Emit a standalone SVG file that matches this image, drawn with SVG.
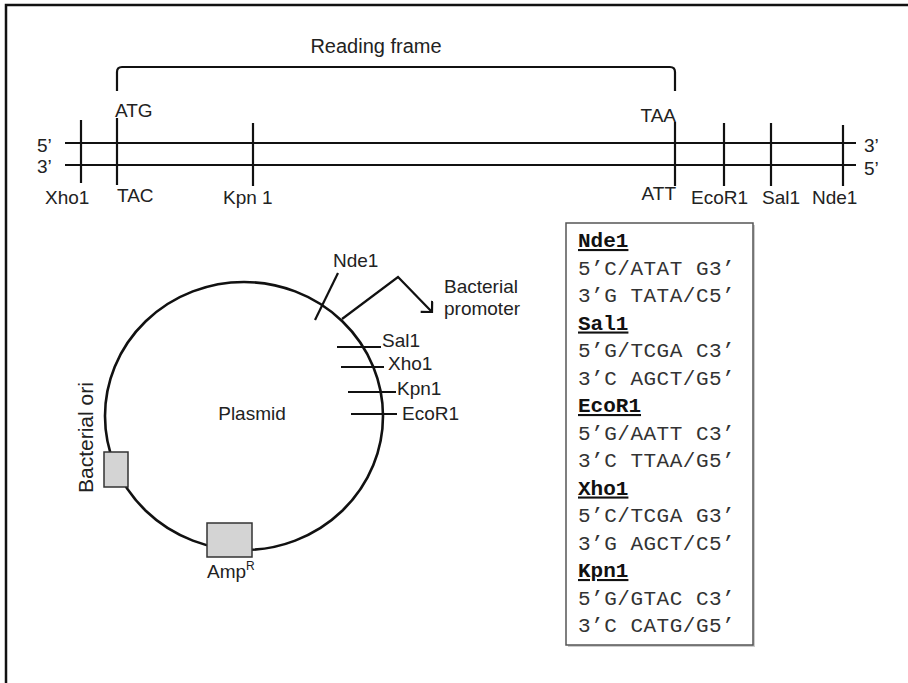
<svg xmlns="http://www.w3.org/2000/svg" width="908" height="683" viewBox="0 0 908 683">
<defs>
<style>
.s{font-family:"Liberation Sans",Arial,sans-serif;font-size:19px;fill:#222}
.m{font-family:"Liberation Mono","Courier New",monospace;font-size:21px;fill:#333;letter-spacing:0.5px}
.h{font-family:"Liberation Mono","Courier New",monospace;font-size:21px;font-weight:bold;fill:#111;text-decoration:underline}
.ln{stroke:#111;stroke-width:2.2;fill:none}
.box{fill:#d4d4d4;stroke:#333;stroke-width:1.5}
</style>
<marker id="arr" markerWidth="20" markerHeight="20" refX="10" refY="8" orient="auto" markerUnits="userSpaceOnUse">
<path d="M2,0 L10,8 L2,16" fill="none" stroke="#111" stroke-width="2.2"/>
</marker>
</defs>
<rect width="908" height="683" fill="#fff"/>
<path d="M6,683 V5 H908" fill="none" stroke="#111" stroke-width="2.5"/>

<g id="reading-frame">
<text class="s" x="376" y="53" text-anchor="middle" style="font-size:20px">Reading frame</text>
<path class="ln" d="M117,91 V72 Q117,67 122,67 H670 Q675,67 675,72 V91"/>
<text class="s" x="115" y="117">ATG</text>
<text class="s" x="676" y="122" text-anchor="end">TAA</text>
</g>

<g id="dna-strands">
<line class="ln" x1="65" y1="143" x2="856" y2="143"/>
<line class="ln" x1="65" y1="165" x2="856" y2="165"/>
<text class="s" x="37" y="152">5’</text>
<text class="s" x="37" y="173">3’</text>
<text class="s" x="864" y="152">3’</text>
<text class="s" x="864" y="175">5’</text>
</g>

<g id="strand-sites">
<line class="ln" x1="81" y1="120" x2="81" y2="183"/>
<line class="ln" x1="117" y1="118" x2="117" y2="185"/>
<line class="ln" x1="253" y1="123" x2="253" y2="186"/>
<line class="ln" x1="675" y1="122" x2="675" y2="186"/>
<line class="ln" x1="724" y1="123" x2="724" y2="186"/>
<line class="ln" x1="771" y1="123" x2="771" y2="186"/>
<line class="ln" x1="843" y1="125" x2="843" y2="186"/>
<text class="s" x="45" y="204">Xho1</text>
<text class="s" x="117" y="202">TAC</text>
<text class="s" x="223" y="204">Kpn 1</text>
<text class="s" x="676" y="200" text-anchor="end">ATT</text>
<text class="s" x="691" y="204">EcoR1</text>
<text class="s" x="762" y="204">Sal1</text>
<text class="s" x="812" y="204">Nde1</text>
</g>

<g id="plasmid">
<ellipse cx="244" cy="416" rx="139" ry="134" fill="none" stroke="#111" stroke-width="2.6"/>
<text class="s" x="252" y="420" text-anchor="middle">Plasmid</text>
</g>

<g id="bacterial-ori">
<rect class="box" x="104" y="452" width="24" height="35"/>
<text class="s" style="font-size:21px" transform="translate(93,493) rotate(-90)">Bacterial ori</text>
</g>

<g id="ampR">
<rect class="box" x="207" y="523" width="45" height="34"/>
<text class="s" x="207" y="578">Amp<tspan style="font-size:12px" dy="-8">R</tspan></text>
</g>

<g id="promoter">
<text class="s" x="444" y="293">Bacterial</text>
<text class="s" x="444" y="315">promoter</text>
</g>

<g id="plasmid-sites">
<line class="ln" x1="338" y1="273" x2="315" y2="320"/>
<text class="s" x="333" y="267">Nde1</text>
<line class="ln" x1="337" y1="347" x2="381" y2="347"/>
<text class="s" x="382" y="347">Sal1</text>
<line class="ln" x1="341" y1="367" x2="384" y2="367"/>
<text class="s" x="388" y="370">Xho1</text>
<line class="ln" x1="348" y1="392" x2="396" y2="392"/>
<text class="s" x="397" y="395">Kpn1</text>
<line class="ln" x1="351" y1="414" x2="397" y2="414"/>
<text class="s" x="402" y="420">EcoR1</text>
</g>

<g id="connectors">
<path class="ln" d="M342,319 L398,277 L432,312" marker-end="url(#arr)"/>
</g>

<g id="enzyme-table">
<rect x="568" y="225" width="187" height="422" fill="#ccc"/>
<rect x="566" y="223" width="187" height="422" fill="#fff" stroke="#555" stroke-width="1.5"/>
<text class="h" x="578" y="247">Nde1</text>
<text class="m" x="578" y="274.5">5’C/ATAT G3’</text>
<text class="m" x="578" y="302">3’G TATA/C5’</text>
<text class="h" x="578" y="329.5">Sal1</text>
<text class="m" x="578" y="357">5’G/TCGA C3’</text>
<text class="m" x="578" y="384.5">3’C AGCT/G5’</text>
<text class="h" x="578" y="412">EcoR1</text>
<text class="m" x="578" y="439.5">5’G/AATT C3’</text>
<text class="m" x="578" y="467">3’C TTAA/G5’</text>
<text class="h" x="578" y="494.5">Xho1</text>
<text class="m" x="578" y="522">5’C/TCGA G3’</text>
<text class="m" x="578" y="549.5">3’G AGCT/C5’</text>
<text class="h" x="578" y="577">Kpn1</text>
<text class="m" x="578" y="604.5">5’G/GTAC C3’</text>
<text class="m" x="578" y="632">3’C CATG/G5’</text>
</g>
</svg>
